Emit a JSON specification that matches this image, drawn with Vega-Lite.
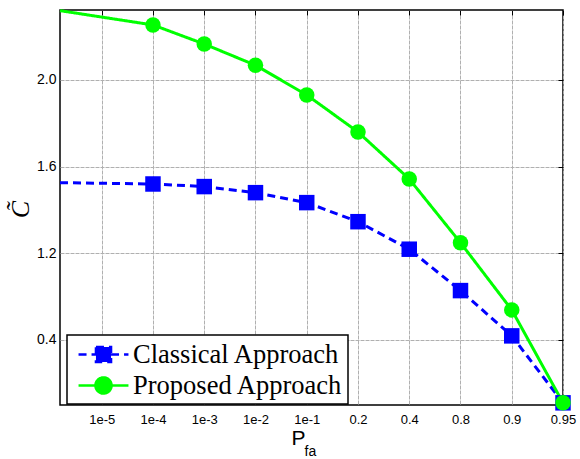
{
  "$schema": "https://vega.github.io/schema/vega-lite/v6.json",
  "width": 503,
  "height": 395,
  "autosize": "none",
  "padding": {"left": 60, "top": 10, "right": 17, "bottom": 54},
  "background": "white",
  "data": {
    "values": [
      {"series": "Classical Approach", "x": 0.186, "y": 1.526, "marker": false},
      {"series": "Classical Approach", "x": 2, "y": 1.520, "marker": true},
      {"series": "Classical Approach", "x": 3, "y": 1.508, "marker": true},
      {"series": "Classical Approach", "x": 4, "y": 1.480, "marker": true},
      {"series": "Classical Approach", "x": 5, "y": 1.434, "marker": true},
      {"series": "Classical Approach", "x": 6, "y": 1.346, "marker": true},
      {"series": "Classical Approach", "x": 7, "y": 1.219, "marker": true},
      {"series": "Classical Approach", "x": 8, "y": 1.028, "marker": true},
      {"series": "Classical Approach", "x": 9, "y": 0.819, "marker": true},
      {"series": "Classical Approach", "x": 10, "y": 0.51, "marker": true},
      {"series": "Proposed Approach", "x": 0.186, "y": 2.32, "marker": false},
      {"series": "Proposed Approach", "x": 2, "y": 2.254, "marker": true},
      {"series": "Proposed Approach", "x": 3, "y": 2.166, "marker": true},
      {"series": "Proposed Approach", "x": 4, "y": 2.068, "marker": true},
      {"series": "Proposed Approach", "x": 5, "y": 1.931, "marker": true},
      {"series": "Proposed Approach", "x": 6, "y": 1.760, "marker": true},
      {"series": "Proposed Approach", "x": 7, "y": 1.543, "marker": true},
      {"series": "Proposed Approach", "x": 8, "y": 1.249, "marker": true},
      {"series": "Proposed Approach", "x": 9, "y": 0.939, "marker": true},
      {"series": "Proposed Approach", "x": 10, "y": 0.51, "marker": true}
    ]
  },
  "layer": [
    {
      "mark": {"type": "line", "strokeWidth": 3},
      "encoding": {
        "x": {
          "field": "x", "type": "quantitative",
          "scale": {"domain": [0.186, 10], "nice": false, "zero": false},
          "axis": {
            "values": [1, 2, 3, 4, 5, 6, 7, 8, 9, 10],
            "labelExpr": "['','1e-5','1e-4','1e-3','1e-2','1e-1','0.2','0.4','0.8','0.9','0.95'][datum.value]",
            "labelFont": "Liberation Sans", "labelFontSize": 13, "labelColor": "black",
            "labelPadding": 8, "ticks": false, "domain": false,
            "labelOverlap": false, "labelBound": false, "labelFlush": false,
            "grid": true, "gridColor": "#b0b0b0", "gridDash": [4, 1], "gridWidth": 1,
            "title": "P", "titleFont": "Liberation Sans", "titleFontSize": 21, "titleFontWeight": "normal",
            "titleColor": "black", "titleX": 238, "titleY": 39, "titleAlign": "center", "titleBaseline": "alphabetic"
          }
        },
        "y": {
          "field": "y", "type": "quantitative",
          "scale": {"domain": [0.5, 2.323], "nice": false, "zero": false},
          "axis": {
            "values": [0.8, 1.2, 1.6, 2.0],
            "labelExpr": "datum.value == 0.8 ? '0.4' : format(datum.value, '.1f')",
            "labelFont": "Liberation Sans", "labelFontSize": 14, "labelColor": "black",
            "labelPadding": 4, "ticks": false, "domain": false,
            "grid": true, "gridColor": "#b0b0b0", "gridDash": [4, 1], "gridWidth": 1,
            "title": "C\u0303", "titleFont": "Liberation Serif", "titleFontStyle": "italic", "titleFontSize": 26,
            "titleFontWeight": "normal", "titleColor": "black", "titleAngle": -90,
            "titleX": -40, "titleY": 199, "titleAlign": "center", "titleBaseline": "middle"
          }
        },
        "color": {
          "field": "series", "type": "nominal",
          "scale": {"domain": ["Classical Approach", "Proposed Approach"], "range": ["#0000ff", "#00ff00"]},
          "legend": {
            "orient": "none", "legendX": 7, "legendY": 325, "title": null,
            "padding": 5, "rowPadding": 3,
            "strokeColor": "black", "fillColor": "white",
            "labelFont": "Liberation Serif", "labelFontSize": 26.5, "labelColor": "black", "labelLimit": 400,
            "symbolType": "M-1.92,0H1.92", "symbolSize": 676, "symbolOffset": 17, "labelOffset": 15, "symbolStrokeWidth": 2.5,
            "encode": {
              "legend": {"update": {"strokeWidth": {"value": 1.5}}},
              "symbols": {
                "update": {
                  "shape": {"signal": "datum.value === 'Classical Approach' ? 'M-1.92,0H-0.58M0.58,0H1.92M-0.58,-0.58H0.58V0.58H-0.58Z' : 'M-1.92,0H1.92M-0.62,0A0.62,0.62,0,1,1,0.62,0A0.62,0.62,0,1,1,-0.62,0Z'"},
                  "fill": {"signal": "datum.value === 'Classical Approach' ? '#0000ff' : '#00ff00'"},
                  "stroke": {"signal": "datum.value === 'Classical Approach' ? '#0000ff' : '#00ff00'"},
                  "strokeDash": {"signal": "datum.value === 'Classical Approach' ? [6, 4] : [1, 0]"},
                  "opacity": {"value": 1},
                  "fillOpacity": {"value": 1},
                  "strokeOpacity": {"value": 1}
                }
              }
            }
          }
        },
        "strokeDash": {
          "field": "series", "type": "nominal",
          "scale": {"domain": ["Classical Approach", "Proposed Approach"], "range": [[8, 5], [1, 0]]},
          "legend": null
        }
      }
    },
    {
      "transform": [{"filter": "datum.marker && datum.series === 'Classical Approach'"}],
      "mark": {"type": "point", "filled": true, "opacity": 1, "size": 240, "shape": "square", "color": "#0000ff"},
      "encoding": {
        "x": {
          "field": "x", "type": "quantitative",
          "axis": {
            "orient": "bottom", "labels": false, "ticks": false, "grid": false, "domain": false,
            "title": "fa", "titleFont": "Liberation Sans", "titleFontSize": 14, "titleFontWeight": "normal",
            "titleColor": "black", "titleX": 244, "titleY": 50, "titleAlign": "left", "titleBaseline": "alphabetic"
          }
        },
        "y": {
          "field": "y", "type": "quantitative",
          "axis": {
            "orient": "right", "values": [0.8, 1.2, 1.6, 2.0], "labels": false, "grid": false, "domain": false,
            "ticks": true, "tickSize": -5, "tickColor": "black", "tickWidth": 1, "title": null
          }
        }
      }
    },
    {
      "transform": [{"filter": "datum.marker && datum.series === 'Proposed Approach'"}],
      "mark": {"type": "point", "filled": true, "opacity": 1, "size": 240, "shape": "circle", "color": "#00ff00"},
      "encoding": {
        "x": {
          "field": "x", "type": "quantitative",
          "axis": {
            "orient": "top", "values": [1, 2, 3, 4, 5, 6, 7, 8, 9, 10], "labels": false, "grid": false, "domain": false,
            "ticks": true, "tickSize": -5, "tickColor": "black", "tickWidth": 1, "title": null
          }
        },
        "y": {"field": "y", "type": "quantitative", "axis": null}
      }
    }
  ],
  "resolve": {"axis": {"x": "independent", "y": "independent"}},
  "config": {
    "view": {"stroke": "black", "strokeWidth": 1.5},
    "font": "Liberation Sans"
  }
}
